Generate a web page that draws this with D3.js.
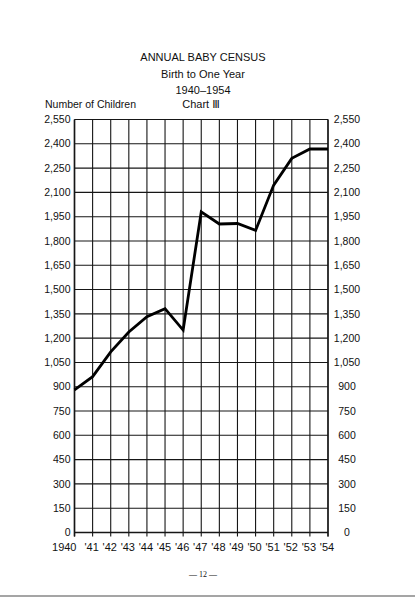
<!DOCTYPE html>
<html>
<head>
<meta charset="utf-8">
<script src="https://cdn.jsdelivr.net/npm/d3@7/dist/d3.min.js"></script>
<style>
  html, body { margin: 0; padding: 0; background: #fff; }
  svg { display: block; }
  text { font-family: "Liberation Sans", "DejaVu Sans", sans-serif; fill: #111; }
</style>
</head>
<body>
<svg id="chart" width="415" height="600"></svg>
<script>
// ---- data ----
const years = [1940, 1941, 1942, 1943, 1944, 1945, 1946, 1947, 1948, 1949, 1950, 1951, 1952, 1953, 1954];
const children = [880, 962, 1115, 1238, 1332, 1382, 1250, 1980, 1905, 1908, 1865, 2145, 2310, 2368, 2368];
const yearLabels = ["1940", "'41", "'42", "'43", "'44", "'45", "'46", "'47", "'48", "'49", "'50", "'51", "'52", "'53", "'54"];
const yTicks = [0, 150, 300, 450, 600, 750, 900, 1050, 1200, 1350, 1500, 1650, 1800, 1950, 2100, 2250, 2400, 2550];
const titleLines = ["ANNUAL  BABY  CENSUS", "Birth  to  One  Year", "1940\u20131954"];
const chartLabel = "Chart  \u2162";
const yAxisTitle = "Number of Children";
const pageNumber = "\u2014 12 \u2014";

(function () {
// ---- layout ----
const svg = d3.select("#chart");
const pLeft = 74.5, pRight = 328, pTop = 119.5, pBottom = 532.5;
const ink = "#161616";

const x = d3.scaleLinear().domain([1940, 1954]).range([pLeft, pRight]);
const y = d3.scaleLinear().domain([0, 2550]).range([pBottom, pTop]);
const fmt = d3.format(",");

// grid: horizontal lines
svg.append("g").selectAll("line").data(yTicks).join("line")
  .attr("x1", pLeft).attr("x2", pRight)
  .attr("y1", d => y(d)).attr("y2", d => y(d))
  .attr("stroke", ink).attr("stroke-width", 1.1);

// grid: vertical lines (extend a little below the base as ticks)
svg.append("g").selectAll("line").data(years).join("line")
  .attr("x1", d => x(d)).attr("x2", d => x(d))
  .attr("y1", pTop).attr("y2", pBottom + 4)
  .attr("stroke", ink).attr("stroke-width", 1.1);

// axes frames
svg.append("line").attr("x1", pLeft).attr("x2", pLeft).attr("y1", pTop).attr("y2", pBottom + 4)
  .attr("stroke", ink).attr("stroke-width", 1.6);
svg.append("line").attr("x1", pRight).attr("x2", pRight).attr("y1", pTop).attr("y2", pBottom + 4)
  .attr("stroke", ink).attr("stroke-width", 1.4);
svg.append("line").attr("x1", pLeft).attr("x2", pRight).attr("y1", pBottom).attr("y2", pBottom)
  .attr("stroke", ink).attr("stroke-width", 1.6);

// left tick labels
svg.append("g").selectAll("text").data(yTicks).join("text")
  .attr("x", pLeft - 4).attr("y", d => y(d)).attr("dy", "0.35em")
  .attr("text-anchor", "end").attr("font-size", 10.5)
  .text(d => fmt(d));

// right tick labels
svg.append("g").selectAll("text").data(yTicks).join("text")
  .attr("x", pRight + 19).attr("y", d => y(d)).attr("dy", "0.35em")
  .attr("text-anchor", "middle").attr("font-size", 10.5)
  .text(d => fmt(d));

// bottom year labels
svg.append("g").selectAll("text").data(years).join("text")
  .attr("x", (d, i) => i === 0 ? x(d) + 2 : x(d) - 1)
  .attr("y", pBottom + 18)
  .attr("text-anchor", (d, i) => i === 0 ? "end" : "middle")
  .attr("font-size", 11)
  .text((d, i) => yearLabels[i]);

// data line
const line = d3.line().x(d => x(d[0])).y(d => y(d[1]));
svg.append("path")
  .datum(years.map((yr, i) => [yr, children[i]]))
  .attr("d", line)
  .attr("fill", "none").attr("stroke", "#000")
  .attr("stroke-width", 2.8).attr("stroke-linejoin", "miter");

// titles
svg.append("g").selectAll("text").data(titleLines).join("text")
  .attr("x", 203).attr("y", (d, i) => 61 + i * 16.5)
  .attr("text-anchor", "middle").attr("font-size", 11)
  .text(d => d);
svg.append("text").attr("x", 201).attr("y", 107.5)
  .attr("text-anchor", "middle").attr("font-size", 11).text(chartLabel);
svg.append("text").attr("x", 45).attr("y", 107.5)
  .attr("text-anchor", "start").attr("font-size", 10.5).text(yAxisTitle);

// page number
svg.append("text").attr("x", 203).attr("y", 577)
  .attr("text-anchor", "middle").attr("font-size", 8)
  .style("font-family", "'Liberation Serif', serif").text(pageNumber);

// scan edge at the bottom
svg.append("line").attr("x1", 0).attr("x2", 415).attr("y1", 596).attr("y2", 596)
  .attr("stroke", "#555").attr("stroke-width", 1.5).attr("opacity", 0.7);
})();
</script>
</body>
</html>
